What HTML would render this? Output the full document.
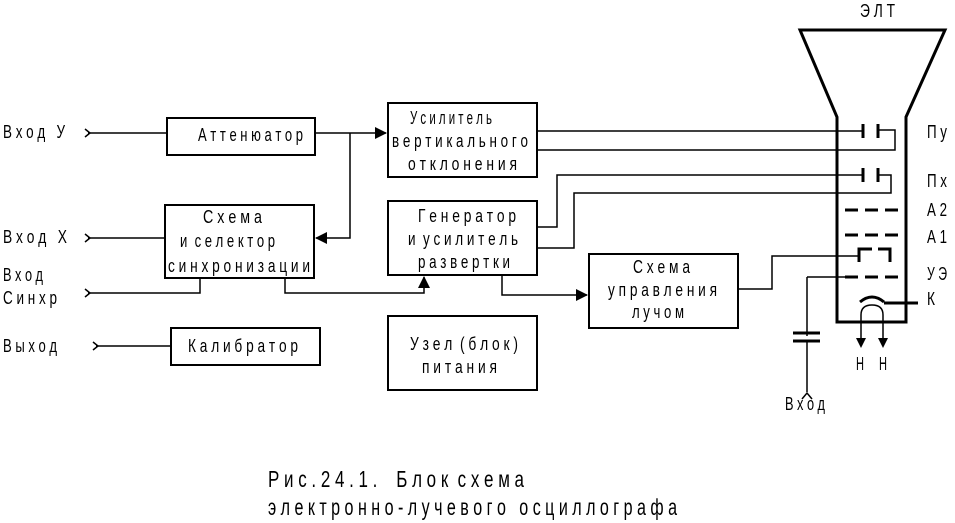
<!DOCTYPE html>
<html><head><meta charset="utf-8"><style>
html,body{margin:0;padding:0;background:#fff;}
svg{display:block;}
text{font-family:"Liberation Sans",sans-serif;font-size:18px;fill:#000;white-space:pre;}
.c{font-size:23px;}
</style></head><body>
<svg width="955" height="523" viewBox="0 0 955 523" xmlns="http://www.w3.org/2000/svg" xml:space="preserve">
<defs>
<marker id="a" markerWidth="12" markerHeight="12" refX="11" refY="6" orient="auto" markerUnits="userSpaceOnUse"><path d="M0,0 L12,6 L0,12 Z" fill="#000"/></marker>
</defs>
<g fill="none" stroke="#000" stroke-width="2">
<rect x="167" y="118" width="148" height="37"/>
<rect x="388" y="103" width="149" height="74"/>
<rect x="165" y="205" width="149" height="73"/>
<rect x="388" y="201" width="149" height="74"/>
<rect x="589" y="254" width="149" height="74"/>
<rect x="171" y="328" width="149" height="37"/>
<rect x="388" y="316" width="149" height="74"/>
</g>
<g fill="none" stroke="#000" stroke-width="1.5">
<path d="M88,133 H167"/><path d="M85,129 l5,4 l-5,4"/>
<path d="M88,238 H165"/><path d="M85,234 l5,4 l-5,4"/>
<path d="M88,293 H200 V278"/><path d="M85,289 l5,4 l-5,4"/>
<path d="M96,346 H171"/><path d="M93,342 l5,4 l-5,4"/>
<path d="M315,133 H386" marker-end="url(#a)"/>
<path d="M350,133 V238 H316" marker-end="url(#a)"/>
<path d="M285,278 V293 H424 V277" marker-end="url(#a)"/>
<path d="M502,275 V295 H587" marker-end="url(#a)"/>
<path d="M537,131 H862"/>
<path d="M537,150 H895 V130 H878"/>
<path d="M537,227 H557 V175 H862"/>
<path d="M537,248 H574 V193 H891 V175 H878"/>
<path d="M738,289 H772 V256 H858"/>
<path d="M807,277 H845"/>
<path d="M807,277 V336 M807,342 V392"/>
<path d="M802,399 l5,-6 l5,6"/>
</g>
<g fill="none" stroke="#000" stroke-width="3">
<path d="M800,30 H945 L906,117 V322 H837 V117 Z"/>
<path d="M863,124 V138 M878,124 V138"/>
<path d="M863,168 V182 M878,168 V182"/>
<path d="M845,210 H900" stroke-dasharray="13,7"/>
<path d="M845,235 H900" stroke-dasharray="13,7"/>
<path d="M845,277 H900" stroke-dasharray="13,7"/>
<path d="M859,262 V249 H872 M878,249 H890 V262"/>
<path d="M793,333 H820 M793,341 H820"/>
<path d="M860,302 Q872,292 884,302"/>
<path d="M884,303 H918"/>
</g>
<g fill="none" stroke="#000" stroke-width="1.5">
<path d="M861,340 V315 Q861,305 872,305 Q883,305 883,315 V340"/>
</g>
<path d="M856,338 L866,338 L861,348 Z M878,338 L888,338 L883,348 Z" fill="#000"/>
<text x="3" y="138" textLength="62" lengthAdjust="spacingAndGlyphs">В х о д   У</text>
<text x="3" y="243" textLength="64" lengthAdjust="spacingAndGlyphs">В х о д   Х</text>
<text x="3" y="281" textLength="40" lengthAdjust="spacingAndGlyphs">В х о д</text>
<text x="3" y="304" textLength="54" lengthAdjust="spacingAndGlyphs">С и н х р</text>
<text x="3" y="352" textLength="54" lengthAdjust="spacingAndGlyphs">В ы х о д</text>
<text x="198" y="141" textLength="105" lengthAdjust="spacingAndGlyphs">А т т е н ю а т о р</text>
<text x="410" y="124" textLength="82" lengthAdjust="spacingAndGlyphs">У с и л и т е л ь</text>
<text x="392" y="147" textLength="136" lengthAdjust="spacingAndGlyphs">в е р т и к а л ь н о г о</text>
<text x="408" y="170" textLength="109" lengthAdjust="spacingAndGlyphs">о т к л о н е н и я</text>
<text x="203" y="223" textLength="59" lengthAdjust="spacingAndGlyphs">С х е м а</text>
<text x="180" y="247" textLength="95" lengthAdjust="spacingAndGlyphs">и  с е л е к т о р</text>
<text x="168" y="272" textLength="142" lengthAdjust="spacingAndGlyphs">с и н х р о н и з а ц и и</text>
<text x="418" y="222" textLength="98" lengthAdjust="spacingAndGlyphs">Г е н е р а т о р</text>
<text x="408" y="245" textLength="110" lengthAdjust="spacingAndGlyphs">и  у с и л и т е л ь</text>
<text x="418" y="268" textLength="92" lengthAdjust="spacingAndGlyphs">р а з в е р т к и</text>
<text x="633" y="273" textLength="57" lengthAdjust="spacingAndGlyphs">С х е м а</text>
<text x="608" y="296" textLength="109" lengthAdjust="spacingAndGlyphs">у п р а в л е н и я</text>
<text x="632" y="318" textLength="52" lengthAdjust="spacingAndGlyphs">л у ч о м</text>
<text x="188" y="352" textLength="110" lengthAdjust="spacingAndGlyphs">К а л и б р а т о р</text>
<text x="410" y="350" textLength="108" lengthAdjust="spacingAndGlyphs">У з е л  ( б л о к )</text>
<text x="422" y="373" textLength="75" lengthAdjust="spacingAndGlyphs">п и т а н и я</text>
<text x="860" y="17" textLength="35" lengthAdjust="spacingAndGlyphs">Э Л Т</text>
<text x="927" y="138" textLength="20" lengthAdjust="spacingAndGlyphs">П у</text>
<text x="927" y="187" textLength="20" lengthAdjust="spacingAndGlyphs">П х</text>
<text x="927" y="216" textLength="20" lengthAdjust="spacingAndGlyphs">А 2</text>
<text x="927" y="243" textLength="20" lengthAdjust="spacingAndGlyphs">А 1</text>
<text x="927" y="280" textLength="20" lengthAdjust="spacingAndGlyphs">У Э</text>
<text x="927" y="305" textLength="8" lengthAdjust="spacingAndGlyphs">К</text>
<text x="856" y="370" textLength="8" lengthAdjust="spacingAndGlyphs">Н</text>
<text x="879" y="370" textLength="8" lengthAdjust="spacingAndGlyphs">Н</text>
<text x="785" y="410" textLength="40" lengthAdjust="spacingAndGlyphs">В х о д</text>
<text class="c" x="268" y="487" textLength="256" lengthAdjust="spacingAndGlyphs">Р и с . 2 4 . 1 .    Б л о к  с х е м а</text>
<text class="c" x="268" y="515" textLength="409" lengthAdjust="spacingAndGlyphs">э л е к т р о н н о - л у ч е в о г о   о с ц и л л о г р а ф а</text>
</svg>
</body></html>
